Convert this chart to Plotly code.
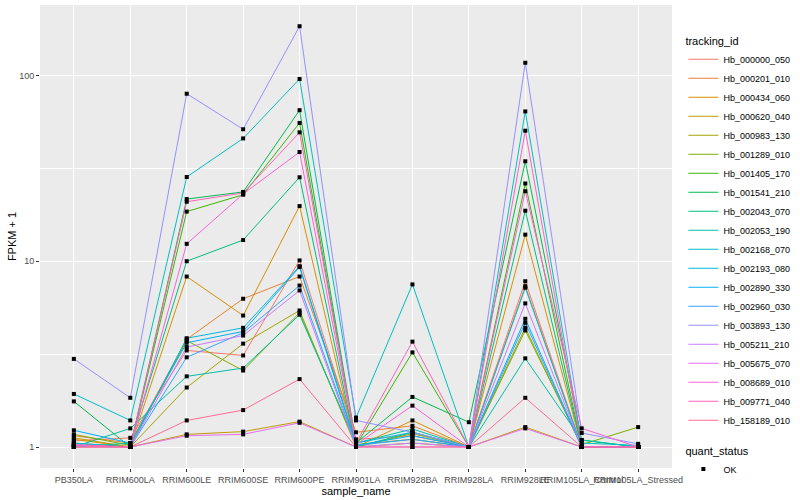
import plotly.graph_objects as go

samples = ["PB350LA", "RRIM600LA", "RRIM600LE", "RRIM600SE", "RRIM600PE", "RRIM901LA",
           "RRIM928BA", "RRIM928LA", "RRIM928LE", "RRIM105LA_Control", "RRIM105LA_Stressed"]

tracking_ids = ["Hb_000000_050", "Hb_000201_010", "Hb_000434_060", "Hb_000620_040", "Hb_000983_130",
                "Hb_001289_010", "Hb_001405_170", "Hb_001541_210", "Hb_002043_070", "Hb_002053_190",
                "Hb_002168_070", "Hb_002193_080", "Hb_002890_330", "Hb_002960_030", "Hb_003893_130",
                "Hb_005211_210", "Hb_005675_070", "Hb_008689_010", "Hb_009771_040", "Hb_158189_010"]

colors = ["#F8766D", "#EA8331", "#D89000", "#C09B00", "#A3A500", "#7CAE00", "#39B600", "#00BB4E",
          "#00BF7D", "#00C1A3", "#00BFC4", "#00BAE0", "#00B0F6", "#35A2FF", "#9590FF", "#C77CFF",
          "#E76BF3", "#FA62DB", "#FF62BC", "#FF6C91"]

# FPKM + 1 values, one list per tracking_id, in sample order
Hb_000000_050 = [1.08, 1.12, 3.31, 3.11, 10.1, 1.10, 1.15, 1.00, 7.8, 1.00, 1.00]
Hb_000201_010 = [1.15, 1.05, 3.80, 6.28, 8.27, 1.20, 1.30, 1.00, 7.34, 1.00, 1.00]
Hb_000434_060 = [1.10, 1.00, 8.27, 5.10, 19.8, 1.00, 1.39, 1.00, 13.9, 1.00, 1.00]
Hb_000620_040 = [1.12, 1.00, 1.17, 1.21, 1.37, 1.00, 1.05, 1.00, 1.28, 1.00, 1.00]
Hb_000983_130 = [1.00, 1.00, 2.09, 3.60, 5.43, 1.00, 1.18, 1.00, 4.39, 1.00, 1.00]
Hb_001289_010 = [1.17, 1.02, 3.74, 2.58, 5.28, 1.03, 1.10, 1.00, 4.24, 1.03, 1.28]
Hb_001405_170 = [1.05, 1.00, 18.5, 22.8, 55.5, 1.02, 3.23, 1.00, 26.2, 1.00, 1.00]
Hb_001541_210 = [1.76, 1.00, 21.6, 23.6, 65.0, 1.05, 1.86, 1.36, 34.5, 1.09, 1.00]
Hb_002043_070 = [1.00, 1.05, 10.0, 13.0, 28.3, 1.00, 1.20, 1.00, 18.7, 1.00, 1.00]
Hb_002053_190 = [1.00, 1.26, 2.40, 2.66, 5.15, 1.05, 1.25, 1.00, 3.00, 1.09, 1.00]
Hb_002168_070 = [1.93, 1.39, 28.4, 45.8, 95.7, 1.44, 7.50, 1.00, 64.0, 1.05, 1.02]
Hb_002193_080 = [1.05, 1.00, 3.85, 4.38, 9.40, 1.05, 1.20, 1.00, 7.20, 1.00, 1.00]
Hb_002890_330 = [1.23, 1.05, 3.64, 4.19, 9.30, 1.02, 1.15, 1.00, 4.90, 1.00, 1.00]
Hb_002960_030 = [1.03, 1.00, 3.04, 4.12, 7.40, 1.02, 1.10, 1.00, 4.66, 1.00, 1.00]
Hb_003893_130 = [2.98, 1.84, 79.7, 51.3, 184.0, 1.39, 1.20, 1.00, 117.0, 1.19, 1.04]
Hb_005211_210 = [1.02, 1.00, 3.45, 3.98, 6.96, 1.00, 1.05, 1.00, 5.93, 1.00, 1.00]
Hb_005675_070 = [1.00, 1.00, 1.15, 1.17, 1.35, 1.00, 1.00, 1.00, 1.26, 1.00, 1.00]
Hb_008689_010 = [1.02, 1.00, 12.4, 23.0, 38.7, 1.03, 1.67, 1.00, 23.8, 1.26, 1.00]
Hb_009771_040 = [1.03, 1.00, 20.9, 23.3, 49.4, 1.05, 3.69, 1.00, 50.4, 1.00, 1.00]
Hb_158189_010 = [1.00, 1.00, 1.39, 1.58, 2.32, 1.00, 1.00, 1.00, 1.84, 1.00, 1.00]

series = [Hb_000000_050, Hb_000201_010, Hb_000434_060, Hb_000620_040, Hb_000983_130,
          Hb_001289_010, Hb_001405_170, Hb_001541_210, Hb_002043_070, Hb_002053_190,
          Hb_002168_070, Hb_002193_080, Hb_002890_330, Hb_002960_030, Hb_003893_130,
          Hb_005211_210, Hb_005675_070, Hb_008689_010, Hb_009771_040, Hb_158189_010]

FONT = "Liberation Sans, Arial, sans-serif"

fig = go.Figure()
for tid, col, vals in zip(tracking_ids, colors, series):
    fig.add_trace(go.Scatter(x=samples, y=vals, mode="lines", name=tid,
                             line=dict(color=col, width=1), legend="legend"))

all_x = [s for vals in series for s in samples]
all_y = [v for vals in series for v in vals]
fig.add_trace(go.Scatter(x=all_x, y=all_y, mode="markers", name="OK",
                         marker=dict(symbol="square", size=4, color="black"),
                         legend="legend2"))

fig.update_layout(
    width=800, height=500,
    margin=dict(l=40, r=116, t=5, b=32),
    paper_bgcolor="white", plot_bgcolor="#EBEBEB",
    font=dict(family=FONT, size=9, color="black"),
    xaxis=dict(type="category", categoryorder="array", categoryarray=samples,
               range=[-0.6, 10.6], showgrid=True, gridcolor="white", gridwidth=1.2,
               ticks="outside", ticklen=3, tickcolor="#333333", tickangle=0,
               tickfont=dict(size=9, color="#4D4D4D", family=FONT),
               title=dict(text="sample_name", font=dict(size=11, color="black"), standoff=0),
               zeroline=False, showline=False, automargin=False),
    yaxis=dict(type="log", range=[-0.113, 2.379],
               tickvals=[1, 10, 100], ticktext=["1", "10", "100"],
               showgrid=True, gridcolor="white", gridwidth=1.2,
               minor=dict(tickvals=[3.1623, 31.623], showgrid=True, gridcolor="white",
                          gridwidth=0.6, ticks=""),
               ticks="outside", ticklen=3, tickcolor="#333333",
               tickfont=dict(size=9, color="#4D4D4D", family=FONT),
               title=dict(text="FPKM + 1", font=dict(size=11, color="black"), standoff=0),
               zeroline=False, showline=False, automargin=False),
    legend=dict(title=dict(text="tracking_id", font=dict(size=11)),
                x=1.018, xanchor="left", y=0.945, yanchor="top", itemwidth=30,
                font=dict(size=9), bgcolor="rgba(255,255,255,0)", tracegroupgap=0),
    legend2=dict(title=dict(text="quant_status", font=dict(size=11)),
                 x=1.018, xanchor="left", y=0.06, yanchor="top", itemwidth=30,
                 font=dict(size=9), bgcolor="rgba(255,255,255,0)"),
    showlegend=True,
)

fig.write_html("out.html", config={"displayModeBar": False},
               post_script="document.body.style.margin='0';document.body.style.overflow='hidden';")
